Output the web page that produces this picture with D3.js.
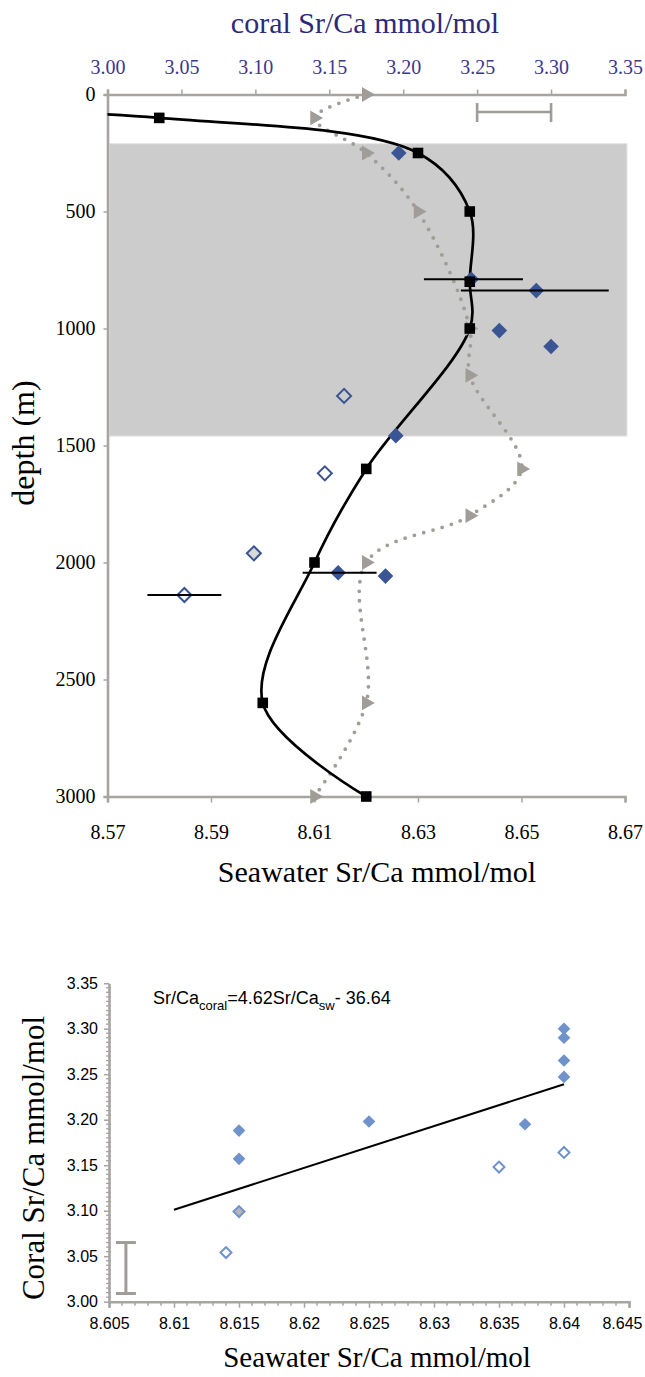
<!DOCTYPE html>
<html>
<head>
<meta charset="utf-8">
<script src="https://cdn.jsdelivr.net/npm/d3@7"></script>
<style>
  body { margin: 0; background: #fff; }
  svg { display: block; }
</style>
</head>
<body>
<div id="chart"></div>
<script>
// Profile chart: seawater Sr/Ca (squares) and a second seawater estimate (triangles) vs depth
const swDepth = [70, 100, 250, 500, 800, 1000, 1600, 2000, 2600, 3000];
const swValue = [8.55, 8.58, 8.63, 8.64, 8.64, 8.64, 8.62, 8.61, 8.60, 8.62];

const triDepth = [0, 100, 250, 500, 1000, 1200, 1600, 1800, 2000, 2600, 3000];
const triValue = [8.62, 8.61, 8.62, 8.63, 8.64, 8.64, 8.65, 8.64, 8.62, 8.62, 8.61];

// Coral Sr/Ca (top axis) vs depth; kind: filled / open / grey
const coralDepth = [250, 790, 838, 1009, 1077, 1458, 2044, 2058, 1288, 1619, 2139, 1961];
const coralValue = [3.197, 3.246, 3.290, 3.265, 3.300, 3.195, 3.156, 3.188, 3.160, 3.147, 3.052, 3.099];
const coralKind = ['f', 'f', 'f', 'f', 'f', 'f', 'f', 'f', 'o', 'o', 'o', 'g'];

// horizontal error bars on some coral points
const errDepth = [790, 838, 2044, 2139];
const errLow = [3.214, 3.239, 3.132, 3.027];
const errHigh = [3.281, 3.339, 3.182, 3.077];

const bandDepth = [210, 1460];            // grey shaded depth range
const scaleBarCoral = [3.25, 3.30];       // analytical error bar, top chart
const scaleBarDepth = 75;

const depthTicks = [0, 500, 1000, 1500, 2000, 2500, 3000];
const swTicks = [8.57, 8.59, 8.61, 8.63, 8.65, 8.67];
const coralTicks = [3.00, 3.05, 3.10, 3.15, 3.20, 3.25, 3.30, 3.35];

// Cross plot: coral Sr/Ca vs seawater Sr/Ca
const xpSw = [8.615, 8.615, 8.615, 8.614, 8.625, 8.637, 8.635, 8.640, 8.640, 8.640, 8.640, 8.640];
const xpCoral = [3.188, 3.157, 3.099, 3.054, 3.198, 3.195, 3.148, 3.164, 3.247, 3.265, 3.290, 3.300];
const xpKind = ['f', 'f', 'g', 'o', 'f', 'f', 'o', 'o', 'f', 'f', 'f', 'f'];
const trendSw = [8.61, 8.64];
const trendCoral = [3.101, 3.239];
const xpBarSw = 8.6063;
const xpBarCoral = [3.009, 3.065];
const xpSwTicks = [8.605, 8.61, 8.615, 8.62, 8.625, 8.63, 8.635, 8.64, 8.645];
const xpCoralTicks = [3.00, 3.05, 3.10, 3.15, 3.20, 3.25, 3.30, 3.35];

const axisGrey = '#a8a4a0';
const markGrey = '#a09c97';
const darkBlue = '#3a5594';
const lightBlue = '#6f92cc';
const serif = '"Liberation Serif", "Times New Roman", serif';
const sans = '"Liberation Sans", Arial, sans-serif';

const svg = d3.select('#chart').append('svg')
  .attr('width', 645)
  .attr('height', 1377);

// ---------- top chart ----------
const p = { left: 107.5, right: 625, top: 94.5, bottom: 796.5 };

const xSw = d3.scaleLinear().domain([8.57, 8.67]).range([p.left, p.right]);
const xCoral = d3.scaleLinear().domain([3.00, 3.35]).range([p.left, p.right]);
const yDepth = d3.scaleLinear().domain([0, 3000]).range([p.top, p.bottom]);

svg.append('defs').append('clipPath').attr('id', 'plotclip')
  .append('rect')
  .attr('x', p.left).attr('y', p.top - 10)
  .attr('width', p.right - p.left + 10).attr('height', p.bottom - p.top + 20);

svg.append('rect')
  .attr('x', p.left + 2)
  .attr('y', yDepth(bandDepth[0]))
  .attr('width', p.right - p.left)
  .attr('height', yDepth(bandDepth[1]) - yDepth(bandDepth[0]))
  .attr('fill', '#cccccc')
  .attr('stroke', '#e6e6e6')
  .attr('stroke-width', 1);

function styleAxis(g, fontSize, color, family) {
  g.select('.domain').attr('stroke', axisGrey).attr('stroke-width', 2.6);
  g.selectAll('.tick line').attr('stroke', axisGrey).attr('stroke-width', 1.5);
  g.selectAll('.tick text')
    .attr('fill', color)
    .style('font-family', family)
    .style('font-size', fontSize + 'px');
}

const topAxis = svg.append('g')
  .attr('transform', `translate(0,${p.top})`)
  .call(d3.axisTop(xCoral).tickValues(coralTicks).tickFormat(d3.format('.2f')).tickSize(5).tickSizeOuter(5).tickPadding(16));
styleAxis(topAxis, 20, '#3d3790', serif);

const bottomAxis = svg.append('g')
  .attr('transform', `translate(0,${p.bottom})`)
  .call(d3.axisBottom(xSw).tickValues(swTicks).tickFormat(d3.format('.2f')).tickSize(6).tickSizeOuter(6).tickPadding(22));
styleAxis(bottomAxis, 20, '#000', serif);

const leftAxis = svg.append('g')
  .attr('transform', `translate(${p.left},0)`)
  .call(d3.axisLeft(yDepth).tickValues(depthTicks).tickFormat(d3.format('d')).tickSize(4).tickSizeOuter(4).tickPadding(8));
styleAxis(leftAxis, 20, '#000', serif);

svg.append('text')
  .attr('x', 365).attr('y', 33)
  .attr('text-anchor', 'middle')
  .attr('fill', '#2e2a7a')
  .style('font-family', serif).style('font-size', '30px')
  .text('coral Sr/Ca mmol/mol');

svg.append('text')
  .attr('x', 377).attr('y', 882)
  .attr('text-anchor', 'middle')
  .attr('fill', '#000')
  .style('font-family', serif).style('font-size', '30px')
  .text('Seawater Sr/Ca mmol/mol');

svg.append('text')
  .attr('transform', 'translate(34,443) rotate(-90)')
  .attr('text-anchor', 'middle')
  .attr('fill', '#000')
  .style('font-family', serif).style('font-size', '32px')
  .text('depth (m)');

// analytical error bar
const sbY = yDepth(scaleBarDepth);
const sb = svg.append('g').attr('stroke', markGrey).attr('stroke-width', 2.6);
sb.append('line').attr('x1', xCoral(scaleBarCoral[0])).attr('x2', xCoral(scaleBarCoral[1])).attr('y1', sbY).attr('y2', sbY);
scaleBarCoral.forEach(v => {
  sb.append('line').attr('x1', xCoral(v)).attr('x2', xCoral(v)).attr('y1', sbY - 9).attr('y2', sbY + 10);
});

// dotted triangle series
const triData = triDepth.map((d, i) => ({ depth: d, value: triValue[i] }));
svg.append('path')
  .datum(triData)
  .attr('fill', 'none')
  .attr('stroke', markGrey)
  .attr('stroke-width', 3.8)
  .attr('stroke-linecap', 'round')
  .attr('stroke-dasharray', '0 9.6')
  .attr('d', d3.line().x(d => xSw(d.value)).y(d => yDepth(d.depth)).curve(d3.curveCatmullRom));

// black seawater line
const swData = swDepth.map((d, i) => ({ depth: d, value: swValue[i] }));
svg.append('path')
  .datum(swData)
  .attr('clip-path', 'url(#plotclip)')
  .attr('fill', 'none')
  .attr('stroke', '#000')
  .attr('stroke-width', 2.7)
  .attr('d', d3.line().x(d => xSw(d.value)).y(d => yDepth(d.depth)).curve(d3.curveCatmullRom));

svg.append('g').selectAll('path')
  .data(triData)
  .join('path')
  .attr('transform', d => `translate(${xSw(d.value)},${yDepth(d.depth)}) rotate(90)`)
  .attr('d', d3.symbol(d3.symbolTriangle, 95))
  .attr('fill', markGrey);

// coral diamonds
const coralData = coralDepth.map((d, i) => ({ depth: d, value: coralValue[i], kind: coralKind[i] }));
svg.append('g').selectAll('path')
  .data(coralData)
  .join('path')
  .attr('transform', d => `translate(${xCoral(d.value)},${yDepth(d.depth)}) rotate(45)`)
  .attr('d', d => d3.symbol(d3.symbolSquare, d.kind === 'f' ? 122 : 98)())
  .attr('fill', d => d.kind === 'f' ? darkBlue : d.kind === 'g' ? '#d9d9d9' : 'none')
  .attr('stroke', darkBlue)
  .attr('stroke-width', d => d.kind === 'f' ? 0 : 2);

svg.append('g').selectAll('rect')
  .data(swData.filter(d => d.value >= 8.57))
  .join('rect')
  .attr('x', d => xSw(d.value) - 5.3)
  .attr('y', d => yDepth(d.depth) - 5.3)
  .attr('width', 10.6)
  .attr('height', 10.6)
  .attr('fill', '#000');

// error bars
svg.append('g').selectAll('line')
  .data(errDepth)
  .join('line')
  .attr('x1', (d, i) => xCoral(errLow[i]))
  .attr('x2', (d, i) => xCoral(errHigh[i]))
  .attr('y1', d => yDepth(d))
  .attr('y2', d => yDepth(d))
  .attr('stroke', '#000')
  .attr('stroke-width', 2);

// ---------- bottom chart ----------
const q = { left: 109, right: 629, top: 983.2, bottom: 1301.7 };
const xSw2 = d3.scaleLinear().domain([8.605, 8.645]).range([q.left, q.right]);
const yCoral2 = d3.scaleLinear().domain([3.00, 3.35]).range([q.bottom, q.top]);

const minorX = d3.range(8.605, 8.6451, 0.001).filter(v => Math.abs(Math.round(v * 200) - v * 200) > 0.01);
const minorY = d3.range(3.00, 3.3501, 0.005).filter(v => Math.abs(Math.round(v * 20) - v * 20) > 0.01);

const xAxis2 = svg.append('g')
  .attr('transform', `translate(0,${q.bottom})`)
  .call(d3.axisBottom(xSw2).tickValues(xpSwTicks).tickFormat(d => String(d)).tickSize(6).tickSizeOuter(6).tickPadding(10));
styleAxis(xAxis2, 16, '#000', sans);
// keep the last label inside the page
xAxis2.selectAll('.tick text').filter(d => d === 8.645).attr('text-anchor', 'end').attr('dx', 13);
svg.append('g').selectAll('line')
  .data(minorX)
  .join('line')
  .attr('x1', d => xSw2(d)).attr('x2', d => xSw2(d))
  .attr('y1', q.bottom).attr('y2', q.bottom + 4)
  .attr('stroke', axisGrey).attr('stroke-width', 1.5);

const yAxis2 = svg.append('g')
  .attr('transform', `translate(${q.left},0)`)
  .call(d3.axisLeft(yCoral2).tickValues(xpCoralTicks).tickFormat(d3.format('.2f')).tickSize(5).tickSizeOuter(0).tickPadding(6));
styleAxis(yAxis2, 16, '#000', sans);
svg.append('g').selectAll('line')
  .data(minorY)
  .join('line')
  .attr('x1', q.left - 3).attr('x2', q.left + 2)
  .attr('y1', d => yCoral2(d)).attr('y2', d => yCoral2(d))
  .attr('stroke', axisGrey).attr('stroke-width', 1.3);

svg.append('text')
  .attr('x', 377).attr('y', 1367)
  .attr('text-anchor', 'middle')
  .style('font-family', serif).style('font-size', '29px')
  .text('Seawater Sr/Ca mmol/mol');

svg.append('text')
  .attr('transform', 'translate(44,1158) rotate(-90)')
  .attr('text-anchor', 'middle')
  .style('font-family', serif).style('font-size', '31px')
  .text('Coral Sr/Ca mmol/mol');

// regression equation
const eq = svg.append('text')
  .attr('x', 153).attr('y', 1004)
  .style('font-family', sans).style('font-size', '18px')
  .attr('fill', '#000');
eq.append('tspan').text('Sr/Ca');
eq.append('tspan').attr('dy', 6).style('font-size', '13px').text('coral');
eq.append('tspan').attr('dy', -6).text('=4.62Sr/Ca');
eq.append('tspan').attr('dy', 6).style('font-size', '13px').text('sw');
eq.append('tspan').attr('dy', -6).text('- 36.64');

// analytical error bar
const vb = svg.append('g').attr('stroke', markGrey).attr('stroke-width', 3);
vb.append('line')
  .attr('x1', xSw2(xpBarSw)).attr('x2', xSw2(xpBarSw))
  .attr('y1', yCoral2(xpBarCoral[0])).attr('y2', yCoral2(xpBarCoral[1]));
xpBarCoral.forEach(v => {
  vb.append('line')
    .attr('x1', xSw2(xpBarSw) - 10).attr('x2', xSw2(xpBarSw) + 10)
    .attr('y1', yCoral2(v)).attr('y2', yCoral2(v));
});

svg.append('line')
  .attr('x1', xSw2(trendSw[0])).attr('x2', xSw2(trendSw[1]))
  .attr('y1', yCoral2(trendCoral[0])).attr('y2', yCoral2(trendCoral[1]))
  .attr('stroke', '#000').attr('stroke-width', 2);

const xpData = xpSw.map((d, i) => ({ sw: d, coral: xpCoral[i], kind: xpKind[i] }));
svg.append('g').selectAll('path')
  .data(xpData)
  .join('path')
  .attr('transform', d => `translate(${xSw2(d.sw)},${yCoral2(d.coral)}) rotate(45)`)
  .attr('d', d => d3.symbol(d3.symbolSquare, d.kind === 'f' ? 80 : 60)())
  .attr('fill', d => d.kind === 'f' ? lightBlue : d.kind === 'g' ? '#b5b5b5' : '#fff')
  .attr('stroke', lightBlue)
  .attr('stroke-width', d => d.kind === 'f' ? 0 : 2);
</script>
</body>
</html>
